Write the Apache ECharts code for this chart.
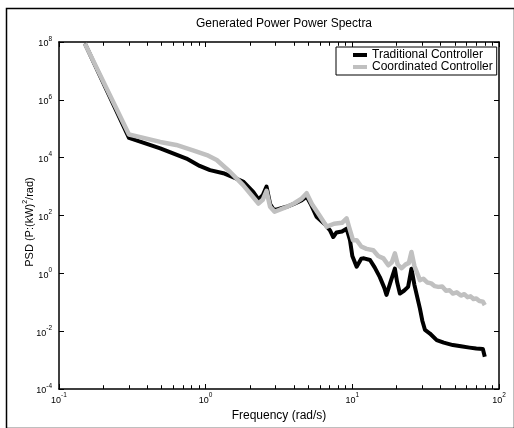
<!DOCTYPE html>
<html>
<head>
<meta charset="utf-8">
<script src="https://cdn.jsdelivr.net/npm/echarts@6/dist/echarts.min.js"></script>
<style>
html,body{margin:0;padding:0;background:#fff;}
#c{width:514px;height:428px;}
</style>
</head>
<body>
<div id="c"></div>
<script>
// ---- data (frequency in rad/s, PSD) ----
const tradFreq = [0.15, 0.30, 0.49, 0.74, 0.91, 1.07, 1.32, 1.80, 2.11, 2.29, 2.45, 2.60, 2.75, 2.92, 3.10, 3.56, 4.00, 4.50, 4.88, 5.20, 5.70, 6.50, 7.03, 7.41, 7.80, 8.50, 9.14, 9.64, 10.0, 10.7, 11.5, 12.0, 13.2, 14.2, 15.4, 16.5, 17.1, 18.2, 19.5, 20.2, 21.1, 22.5, 24.0, 25.3, 26.5, 28.9, 30.0, 31.3, 33.8, 37.6, 42.0, 48.5, 55.0, 63.0, 70.0, 77.6, 79.0, 80.0];
const tradPSD  = [8.9e7, 4.8e4, 2.1e4, 9.3e3, 5.2e3, 3.7e3, 2.9e3, 1.5e3, 6.6e2, 3.6e2, 5.0e2, 1.0e3, 2.5e2, 1.55e2, 1.65e2, 2.0e2, 2.5e2, 3.3e2, 4.5e2, 2.5e2, 9.1e1, 5.0e1, 3.1e1, 1.8e1, 2.6e1, 2.8e1, 3.5e1, 1.4e1, 4.0e0, 1.7e0, 3.2e0, 3.3e0, 2.9e0, 1.6e0, 7.4e-1, 3.2e-1, 1.8e-1, 5.0e-1, 1.45e0, 5.0e-1, 2.0e-1, 2.5e-1, 3.4e-1, 1.45e0, 4.0e-1, 6.0e-2, 2.3e-2, 1.1e-2, 8.3e-3, 4.9e-3, 4.0e-3, 3.3e-3, 3.0e-3, 2.7e-3, 2.5e-3, 2.4e-3, 2.3e-3, 1.3e-3];
const coordFreq = [0.15, 0.30, 0.49, 0.63, 0.82, 1.02, 1.19, 1.47, 1.80, 2.29, 2.45, 2.60, 2.75, 2.95, 3.50, 4.00, 4.50, 4.88, 5.30, 5.90, 6.70, 7.50, 8.50, 9.14, 9.50, 10.1, 10.7, 11.5, 12.5, 13.9, 15.0, 16.3, 17.6, 18.6, 19.5, 20.4, 21.7, 23.0, 24.3, 25.3, 26.5, 28.9, 30.5, 32.5, 34.5, 36.5, 38.5, 41.0, 43.5, 46.0, 48.5, 51.5, 55.0, 58.0, 61.0, 64.0, 67.0, 70.0, 73.5, 77.6, 80.0];
const coordPSD  = [8.9e7, 6.3e4, 3.5e4, 2.75e4, 1.8e4, 1.23e4, 8.3e3, 3.2e3, 1.12e3, 2.6e2, 3.5e2, 7.1e2, 2.0e2, 1.35e2, 1.9e2, 2.6e2, 3.8e2, 5.9e2, 2.5e2, 1.1e2, 4.1e1, 5.2e1, 5.6e1, 8.0e1, 4.0e1, 1.4e1, 1.4e1, 8.5e0, 7.0e0, 6.3e0, 4.0e0, 3.3e0, 1.9e0, 2.4e0, 4.9e0, 2.0e0, 1.5e0, 2.0e0, 2.3e0, 5.5e0, 1.8e0, 5.8e-1, 6.5e-1, 4.8e-1, 4.5e-1, 3.6e-1, 3.4e-1, 3.5e-1, 2.5e-1, 2.6e-1, 2.0e-1, 2.2e-1, 1.7e-1, 1.9e-1, 1.5e-1, 1.6e-1, 1.3e-1, 1.35e-1, 1.1e-1, 1.05e-1, 8.0e-2];

const titleText = 'Generated Power Power Spectra';
const xName = 'Frequency (rad/s)';
const seriesNames = ['Traditional Controller', 'Coordinated Controller'];
const xMinorMults = [2, 3, 4, 5, 6, 7, 8, 9];
const xDecadeStarts = [0.1, 1, 10];

const FONT = 'Liberation Sans, Arial, Helvetica, sans-serif';
const X_MIN = 0.1, X_MAX = 100, Y_MIN = 1e-4, Y_MAX = 1e8;

const minorX = [];
xDecadeStarts.forEach(d => xMinorMults.forEach(m => minorX.push(m * d)));

const pairs = (f, p) => f.map((v, i) => [v, p[i]]);
const supFmt = v => '{b|10}{s|' + Math.round(Math.log10(v)) + '}';
const supRich = {
  b: {fontSize: 9, fontFamily: FONT, color: '#000', verticalAlign: 'bottom', lineHeight: 13},
  s: {fontSize: 6.5, fontFamily: FONT, color: '#000', verticalAlign: 'top', lineHeight: 13}
};
const G = {left: 59, right: 15, top: 42, bottom: 39};
const axisLineStyle = {onZero: false, lineStyle: {color: '#000', width: 1.5}};

// minor tick marks drawn as short vertical segments through the library's scales
const minorTickLines = [];
minorX.forEach(v => {
  minorTickLines.push([{coord: [v, Y_MIN]}, {coord: [v, Y_MIN * 1.35]}]);
  minorTickLines.push([{coord: [v, Y_MAX]}, {coord: [v, Y_MAX / 1.35]}]);
});

const chart = echarts.init(document.getElementById('c'), null, {renderer: 'canvas'});
chart.setOption({
  animation: false,
  backgroundColor: '#fff',
  title: {
    text: titleText, left: 279, top: 13, textAlign: 'center',
    textStyle: {fontFamily: FONT, fontSize: 12, fontWeight: 'normal', color: '#000'}
  },
  legend: {
    data: seriesNames,
    orient: 'vertical',
    left: 336, top: 47,
    padding: [2, 4, 2, 17],
    itemGap: 0,
    itemWidth: 14, itemHeight: 4,
    icon: 'rect',
    backgroundColor: '#fff',
    borderColor: '#000', borderWidth: 1,
    textStyle: {fontFamily: FONT, fontSize: 12, color: '#000'}
  },
  grid: G,
  xAxis: [
    {
      type: 'log', logBase: 10, min: X_MIN, max: X_MAX, interval: 1, position: 'bottom',
      name: xName, nameLocation: 'middle', nameGap: 20,
      nameTextStyle: {fontFamily: FONT, fontSize: 12, color: '#000'},
      axisLine: axisLineStyle,
      axisTick: {inside: true, length: 5, lineStyle: {color: '#000'}},
      axisLabel: {formatter: supFmt, rich: supRich, margin: 3},
      splitLine: {show: false}
    },
    {
      type: 'log', logBase: 10, min: X_MIN, max: X_MAX, interval: 1, position: 'top',
      axisLine: axisLineStyle,
      axisTick: {inside: true, length: 5, lineStyle: {color: '#000'}},
      axisLabel: {show: false}, splitLine: {show: false}
    }
  ],
  yAxis: [
    {
      type: 'log', logBase: 10, min: Y_MIN, max: Y_MAX, interval: 2, position: 'left',
      axisLine: axisLineStyle,
      axisTick: {inside: true, length: 5, lineStyle: {color: '#000'}},
      axisLabel: {formatter: supFmt, rich: supRich, margin: 7},
      splitLine: {show: false}
    },
    {
      type: 'log', logBase: 10, min: Y_MIN, max: Y_MAX, interval: 2, position: 'right',
      axisLine: axisLineStyle,
      axisTick: {inside: true, length: 5, lineStyle: {color: '#000'}},
      axisLabel: {show: false}, splitLine: {show: false}
    }
  ],
  graphic: [
    {
      type: 'rect', left: 4, top: 6, silent: true, z: -10,
      shape: {x: 0, y: 0, width: 508, height: 420},
      style: {fill: 'none', stroke: '#000', lineWidth: 1.5}
    },
    {
      type: 'text', x: 30, y: 222, rotation: Math.PI / 2, silent: true,
      style: {
        text: 'PSD (P:(kW){s|2}/rad)', align: 'center', verticalAlign: 'middle',
        fontFamily: FONT, fontSize: 11, fill: '#000',
        rich: {s: {fontSize: 7, fontFamily: FONT, fill: '#000', verticalAlign: 'top', lineHeight: 16}}
      }
    }
  ],
  series: [
    {
      name: seriesNames[0], type: 'line', xAxisIndex: 0, yAxisIndex: 0,
      data: pairs(tradFreq, tradPSD), showSymbol: false, symbol: 'none',
      lineStyle: {color: '#000', width: 4, join: 'round'}, itemStyle: {color: '#000'}, z: 2,
      markLine: {
        silent: true, symbol: ['none', 'none'], animation: false,
        label: {show: false},
        lineStyle: {color: '#000', width: 1, type: 'solid'},
        emphasis: {disabled: true},
        data: minorTickLines
      }
    },
    {
      name: seriesNames[1], type: 'line', xAxisIndex: 0, yAxisIndex: 0,
      data: pairs(coordFreq, coordPSD), showSymbol: false, symbol: 'none',
      lineStyle: {color: '#c0c0c0', width: 4.5, join: 'round'}, itemStyle: {color: '#c0c0c0'}, z: 3
    }
  ]
});
</script>
</body>
</html>
